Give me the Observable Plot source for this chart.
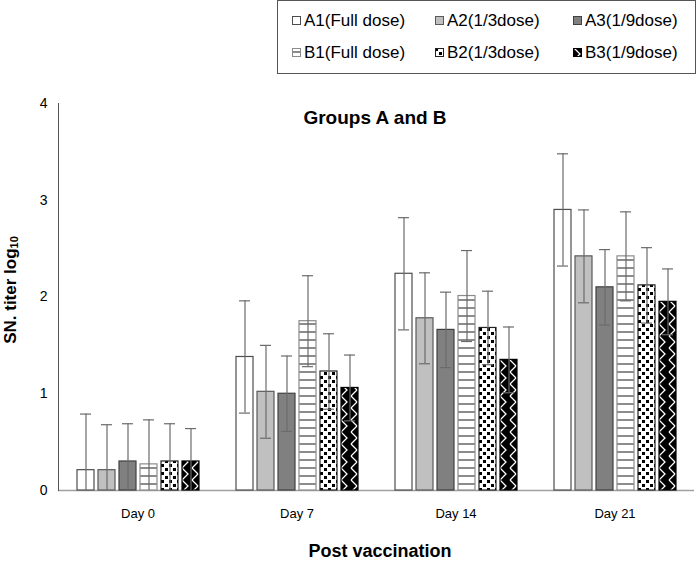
<!DOCTYPE html>
<html>
<head>
<meta charset="utf-8">
<script src="https://cdn.jsdelivr.net/npm/d3@7"></script>
<script src="https://cdn.jsdelivr.net/npm/@observablehq/plot@0.6"></script>
<style>
  html, body { margin: 0; padding: 0; background: #fff; }
  #wrap { position: relative; width: 698px; height: 564px; font-family: "Liberation Sans", Arial, sans-serif; color: #000; overflow: hidden; }
  #wrap > svg.plot { position: absolute; left: 0; top: 0; }
  .legend { position: absolute; left: 277px; top: 0px; width: 419px; height: 74px; border: 1px solid #555; box-sizing: border-box; background: #fff; }
  .li { position: absolute; font-size: 17px; line-height: 17px; white-space: nowrap; }
  .li svg { position: absolute; left: 0; top: 4px; }
  .li span { position: absolute; left: 12px; top: 0; }
  .title { position: absolute; left: 0; width: 750px; top: 107px; text-align: center; font-weight: bold; font-size: 19px; }
  .xlabel { position: absolute; left: 0; width: 760px; top: 541px; text-align: center; font-weight: bold; font-size: 18px; }
  .ylabel { position: absolute; left: 11px; top: 290px; transform: translate(-50%, -50%) rotate(-90deg); font-weight: bold; font-size: 17px; white-space: nowrap; }
  .ylabel sub { font-size: 11px; vertical-align: -2px; }
</style>
</head>
<body>
<div id="wrap">
<svg width="0" height="0" style="position:absolute">
  <defs>
    <pattern id="pB1" patternUnits="userSpaceOnUse" width="8" height="8">
      <rect width="8" height="8" fill="#fff"/>
      <rect y="3" width="8" height="2" fill="#8c8c8c"/>
    </pattern>
    <pattern id="pB2" patternUnits="userSpaceOnUse" width="8" height="8">
      <rect width="8" height="8" fill="#fff"/>
      <rect x="0" y="0" width="3" height="3" fill="#000"/>
      <rect x="4" y="4" width="3" height="3" fill="#000"/>
    </pattern>
    <pattern id="pB3" patternUnits="userSpaceOnUse" width="10" height="12">
      <rect width="10" height="12" fill="#000"/>
      <path d="M1,0 L7,6 L1,12" fill="none" stroke="#fff" stroke-width="1.3"/>
    </pattern>
  </defs>
</svg>
<div class="title">Groups A and B</div>
<div class="ylabel">SN. titer log<sub>10</sub></div>
<div class="xlabel">Post vaccination</div>
<div class="legend" id="legend"></div>
</div>
<script>
// Categories
const days = ["Day 0", "Day 7", "Day 14", "Day 21"];
const groups = ["A1(Full dose)", "A2(1/3dose)", "A3(1/9dose)", "B1(Full dose)", "B2(1/3dose)", "B3(1/9dose)"];
const yTicks = [0, 1, 2, 3, 4];

// Mean SN titer (log10) per group, by day
const A1 = [0.21, 1.38, 2.24, 2.90];
const A2 = [0.21, 1.02, 1.78, 2.42];
const A3 = [0.30, 1.00, 1.66, 2.10];
const B1 = [0.27, 1.75, 2.01, 2.42];
const B2 = [0.30, 1.23, 1.68, 2.12];
const B3 = [0.30, 1.06, 1.35, 1.95];

// Standard deviation (error bar half-length) per group, by day
const A1sd = [0.58, 0.58, 0.58, 0.58];
const A2sd = [0.47, 0.48, 0.47, 0.48];
const A3sd = [0.39, 0.39, 0.39, 0.39];
const B1sd = [0.46, 0.47, 0.47, 0.46];
const B2sd = [0.39, 0.39, 0.38, 0.39];
const B3sd = [0.34, 0.34, 0.34, 0.34];

const means = [A1, A2, A3, B1, B2, B3];
const sds = [A1sd, A2sd, A3sd, B1sd, B2sd, B3sd];
const fills = ["#ffffff", "#c0c0c0", "#808080", "url(#pB1)", "url(#pB2)", "url(#pB3)"];
const strokes = ["#4d4d4d", "#595959", "#404040", "#8c8c8c", "#222", "#000"];

const data = [];
days.forEach((d, i) => groups.forEach((g, j) => {
  data.push({day: d, group: g, value: means[j][i], sd: sds[j][i]});
}));
const lowerCaps = data.filter(d => d.value - d.sd > 0);

const chart = Plot.plot({
  width: 698,
  height: 564,
  marginTop: 103,
  marginBottom: 74,
  marginLeft: 57,
  marginRight: 4,
  style: {fontFamily: "'Liberation Sans', Arial, sans-serif", color: "#000", background: "transparent", overflow: "visible"},
  fx: {domain: days, padding: 0, label: null},
  x: {domain: groups, paddingInner: 0.2, paddingOuter: 0.83, axis: null},
  y: {domain: [0, 4], label: null, axis: null},
  color: {domain: groups, range: fills},
  marks: [
    Plot.ruleY([0], {stroke: "#a0a0a0", strokeWidth: 1.5}),
    Plot.frame({anchor: "left", facetAnchor: "left", stroke: "#555"}),
    Plot.axisY({ticks: yTicks, tickSize: 0, tickPadding: 11, fontSize: 14, label: null, tickFormat: d3.format("d")}),
    Plot.axisFx({anchor: "bottom", tickSize: 0, tickPadding: 18, fontSize: 13, label: null}),
    Plot.barY(data, {fx: "day", x: "group", y: "value", fill: "group",
      stroke: d => strokes[groups.indexOf(d.group)], strokeWidth: 1.2}),
    Plot.ruleX(data, {fx: "day", x: "group", y1: d => Math.max(0, d.value - d.sd), y2: d => d.value + d.sd, stroke: "#6b6b6b", strokeWidth: 1.2}),
    Plot.tickY(data, {fx: "day", x: "group", y: d => d.value + d.sd, stroke: "#6b6b6b", strokeWidth: 1.2, insetLeft: 3, insetRight: 3}),
    Plot.tickY(lowerCaps, {fx: "day", x: "group", y: d => d.value - d.sd, stroke: "#6b6b6b", strokeWidth: 1.2, insetLeft: 3, insetRight: 3})
  ]
});
chart.classList.add("plot");
document.getElementById("wrap").prepend(chart);

// Legend
const legend = document.getElementById("legend");
const colX = [14, 157, 295];
const rowY = [11, 43];
groups.forEach((g, j) => {
  const item = document.createElement("div");
  item.className = "li";
  item.style.left = colX[j % 3] + "px";
  item.style.top = rowY[Math.floor(j / 3)] + "px";
  item.innerHTML = `<svg width="9" height="9"><rect x="0.5" y="0.5" width="8" height="8" fill="${fills[j]}" stroke="${strokes[j]}" stroke-width="1"/></svg><span>${g}</span>`;
  legend.appendChild(item);
});
</script>
</body>
</html>
